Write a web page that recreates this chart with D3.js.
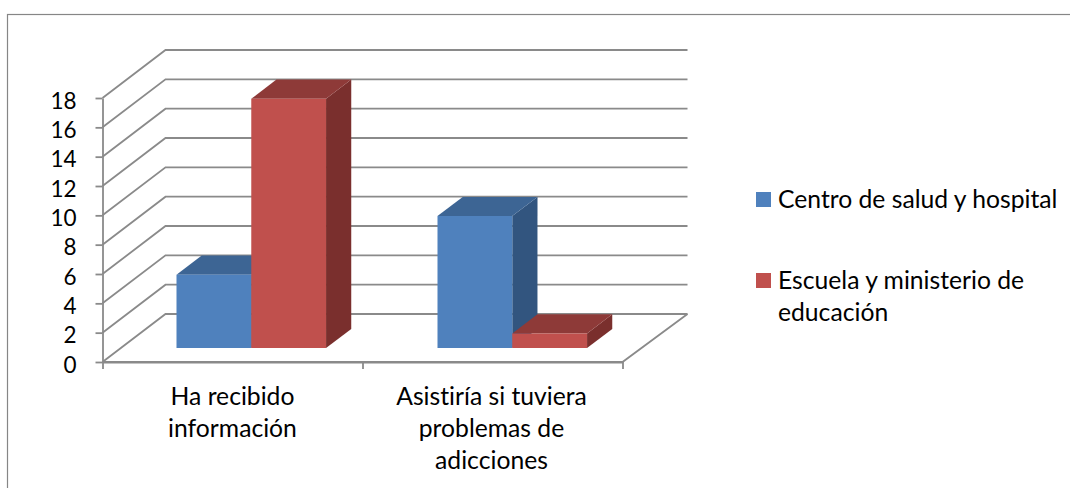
<!DOCTYPE html>
<html>
<head>
<meta charset="utf-8">
<script src="https://cdn.jsdelivr.net/npm/d3@7"></script>
<style>
  html, body { margin: 0; padding: 0; background: #fff; overflow: hidden; }
  text { font-family: Lato, Carlito, sans-serif; fill: #000; font-variant-ligatures: none; }
</style>
</head>
<body>
<svg id="chart" width="1070" height="488"></svg>
<script>
// data
var categories = [
  ['Ha recibido', 'información'],
  ['Asistiría si tuviera', 'problemas de', 'adicciones']
];
var seriesNames = [
  ['Centro de salud y hospital'],
  ['Escuela y ministerio de', 'educación']
];
var centroValues = [5, 9];
var escuelaValues = [17, 1];
var yTicks = [0, 2, 4, 6, 8, 10, 12, 14, 16, 18];

var allSeries = [centroValues, escuelaValues];
var palettes = [
  { front: '#4f81bd', top: '#3d6594', side: '#32557f' },
  { front: '#c0504d', top: '#8e3a38', side: '#7a2f2d' }
];

// layout of the fake 3d box
var plotLeft = 102.5, plotRight = 622.5, plotBottom = 362, plotTop = 98;
var depthX = 63, depthY = 48;
var backRightExtra = 2; // back wall runs a little further than the front edge
var barDepthFrom = 0.29, barDepthTo = 0.69;
var fontSize = 24.7;
var tickFontSize = 22.5;

var svg = d3.select('#chart');

var y = d3.scaleLinear().domain([0, 18]).range([plotBottom, plotTop]);
var xEdge = d3.scaleLinear().domain([0, categories.length]).range([plotLeft, plotRight]);
var xGroup = d3.scaleBand()
  .domain(d3.range(categories.length))
  .range([plotLeft, plotRight + 2])
  .paddingInner(0.427)
  .paddingOuter(0.2135);
var xBar = d3.scaleBand().domain(d3.range(allSeries.length)).range([0, xGroup.bandwidth()]);

// map (x, value, depth) to the screen
function project(px, value, depth) {
  return [px + depth * depthX, y(value) - depth * depthY];
}

// outer frame, only the top and left edges are inside the picture
svg.append('rect')
  .attr('x', 7.5).attr('y', 14.5)
  .attr('width', 1200).attr('height', 700)
  .attr('fill', '#fff').attr('stroke', '#868686').attr('stroke-width', 1.2);

// walls
var wallLine = d3.line();
var walls = svg.append('g')
  .attr('fill', 'none').attr('stroke', '#8a8a8a').attr('stroke-width', 1.8);
walls.selectAll('path.grid')
  .data(yTicks)
  .join('path')
  .attr('class', 'grid')
  .attr('d', function (t) {
    return wallLine([project(plotLeft, t, 0), project(plotLeft, t, 1), project(plotRight + backRightExtra, t, 1)]);
  });
walls.append('path')
  .attr('d', wallLine([project(plotLeft, 0, 0), project(plotRight, 0, 0), project(plotRight + backRightExtra, 0, 1)]));

// axes
var yAxis = svg.append('g')
  .attr('transform', 'translate(' + plotLeft + ',0)')
  .call(d3.axisLeft(y).tickValues(yTicks).tickSize(7).tickPadding(19).tickSizeOuter(0));
var xAxis = svg.append('g')
  .attr('transform', 'translate(0,' + plotBottom + ')')
  .call(d3.axisBottom(xEdge).tickValues(d3.range(categories.length + 1)).tickSize(7).tickSizeOuter(0).tickFormat(''));
yAxis.selectAll('path, line').attr('stroke', '#8a8a8a').attr('stroke-width', 1.8);
xAxis.selectAll('path, line').attr('stroke', '#8a8a8a').attr('stroke-width', 1.8);
yAxis.selectAll('text')
  .style('font-size', tickFontSize + 'px')
  .style('font-family', 'Lato')
  .attr('fill', '#000')
  .attr('dy', '0.45em');

// bars
var barLine = d3.line();
allSeries.forEach(function (values, s) {
  var colours = palettes[s];
  values.forEach(function (v, c) {
    var x0 = xGroup(c) + xBar(s);
    var x1 = x0 + xBar.bandwidth();
    var a = barDepthFrom, b = barDepthTo;
    svg.append('path')
      .attr('fill', colours.side)
      .attr('d', barLine([project(x1, v, a), project(x1, v, b), project(x1, 0, b), project(x1, 0, a)]) + 'Z');
    svg.append('path')
      .attr('fill', colours.top)
      .attr('d', barLine([project(x0, v, a), project(x0, v, b), project(x1, v, b), project(x1, v, a)]) + 'Z');
    svg.append('path')
      .attr('fill', colours.front)
      .attr('d', barLine([project(x0, v, a), project(x1, v, a), project(x1, 0, a), project(x0, 0, a)]) + 'Z');
  });
});

// category labels
var catLabels = svg.append('g')
  .attr('text-anchor', 'middle')
  .style('font-size', fontSize + 'px');
categories.forEach(function (lines, c) {
  lines.forEach(function (line, i) {
    catLabels.append('text')
      .attr('x', xEdge(c + 0.5) - (c ? 1 : 0))
      .attr('y', 405 + i * 32)
      .text(line);
  });
});

// legend
var legendTops = [192, 273];
var legend = svg.append('g').style('font-size', fontSize + 'px');
seriesNames.forEach(function (lines, s) {
  legend.append('rect')
    .attr('x', 756).attr('y', legendTops[s])
    .attr('width', 15).attr('height', 15)
    .attr('fill', palettes[s].front);
  lines.forEach(function (line, i) {
    legend.append('text')
      .attr('x', 778)
      .attr('y', legendTops[s] + 16 + i * 32)
      .text(line);
  });
});
</script>
</body>
</html>
